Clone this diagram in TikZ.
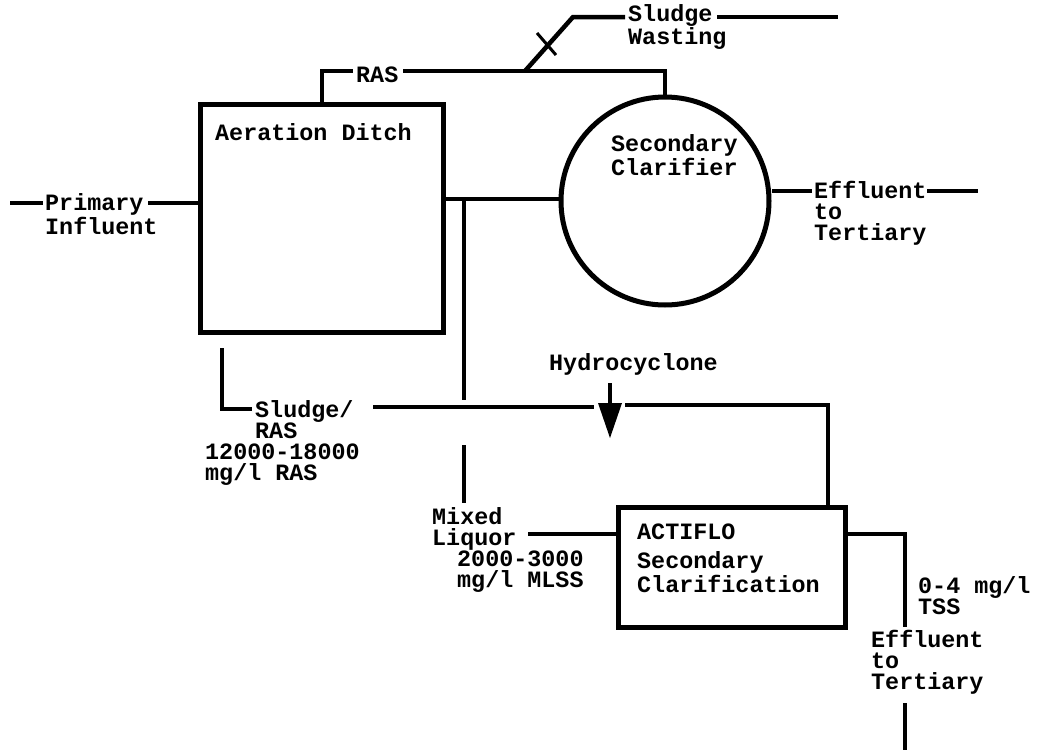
\documentclass[tikz,border=0pt]{standalone}
\usepackage{fontspec}
\setmonofont{Liberation Mono}
\begin{document}
\begin{tikzpicture}[x=1pt,y=-1pt,
  pipe/.style={line width=4.5pt, line join=miter},
  unit/.style={draw, line width=5pt, inner sep=0pt},
  lbl/.style={font=\ttfamily\bfseries\fontsize{23.4}{21}\selectfont, inner sep=0pt, anchor=base west, align=left}]
\useasboundingbox (0,0) rectangle (1053,750);
% units
\node[unit, minimum width=243pt, minimum height=228pt] (ad) at (321.5,218) {};
\node[unit, circle, minimum size=208pt] (sc) at (665,201) {};
\node[unit, minimum width=227pt, minimum height=120pt] (af) at (731.5,567) {};
% unit texts (anchor = baseline of last line)
\node[lbl] (adt) at (215,140) {Aeration Ditch};
\node[lbl] (sct) at (611,175) {Secondary\\Clarifier};
\node[lbl] (aft) at (637,592) {ACTIFLO\\[8pt]Secondary\\Clarification};
% labels
\node[lbl] (pi) at (45,234) {Primary\\Influent};
\node[lbl] (ras) at (356,82) {RAS};
\node[lbl] (sw) at (628,44) {Sludge\\Wasting};
\node[lbl] (eff1) at (814,240) {Effluent\\to\\Tertiary};
\node[lbl] (hc) at (549,370) {Hydrocyclone};
\node[lbl] (sr) at (205,480) {\hspace*{50pt}Sludge/\\\hspace*{50pt}RAS\\12000-18000\\mg/l RAS};
\node[lbl] (ml) at (432,587) {Mixed\\Liquor\\\hspace*{25pt}2000-3000\\\hspace*{25pt}mg/l MLSS};
\node[lbl] (eff2) at (871,689) {\hspace*{47pt}0-4 mg/l\\\hspace*{47pt}TSS\\[12pt]Effluent\\to\\Tertiary};
% coordinates
\coordinate (piL) at (10,203);
\coordinate (piA) at (43,203);
\coordinate (piB) at (148,203);
\coordinate (rasA) at (322,104);
\coordinate (rasB) at (353,71);
\coordinate (rasC) at (403,71);
\coordinate (swA) at (525,71);
\coordinate (swB) at (573,17);
\coordinate (swC) at (625,17);
\coordinate (swD) at (717,17);
\coordinate (swE) at (838,17);
\coordinate (vA) at (537,33);
\coordinate (vB) at (556,55);
\coordinate (mlA) at (464,199);
\coordinate (mlB) at (464,400);
\coordinate (mlC) at (464,445);
\coordinate (mlD) at (464,503);
\coordinate (effA) at (772,191);
\coordinate (effB) at (812,191);
\coordinate (effC) at (927,191);
\coordinate (effD) at (978,191);
\coordinate (srA) at (222,348);
\coordinate (srB) at (252,409);
\coordinate (srC) at (373,407);
\coordinate (srD) at (594,407);
\coordinate (hcA) at (610,383);
\coordinate (hcB) at (625,405);
\coordinate (hcC) at (828,507);
\coordinate (mlE) at (528,534);
\coordinate (outA) at (845,534);
\coordinate (outB) at (905,627);
\coordinate (outC) at (905,703);
\coordinate (outD) at (905,750);
% pipes
\draw[pipe] (piL) -- (piA);
\draw[pipe] (piB) -- (ad.west |- piB);
\draw[pipe] (rasA) |- (rasB);
\draw[pipe] (rasC) -| (sc.north);
\draw[pipe] (swA) -- (swB) -- (swC);
\draw[pipe] (swD) -- (swE);
\draw[line width=3pt] (vA) -- (vB);
\draw[pipe] (ad.east |- mlA) -- (sc.west |- mlA);
\draw[pipe] (mlA) -- (mlB);
\draw[pipe] (mlC) -- (mlD);
\draw[pipe] (effA) -- (effB);
\draw[pipe] (effC) -- (effD);
\draw[pipe] (srA) |- (srB);
\draw[pipe] (srC) -- (srD);
\draw[pipe] (hcA) -- ++(0,21);
\fill (598,403) -- (622,403) -- (610,438) -- cycle;
\draw[pipe] (hcB) -| (hcC);
\draw[pipe] (mlE) -- (af.west |- mlE);
\draw[pipe] (outA) -| (outB);
\draw[pipe] (outC) -- (outD);
\end{tikzpicture}
\end{document}
